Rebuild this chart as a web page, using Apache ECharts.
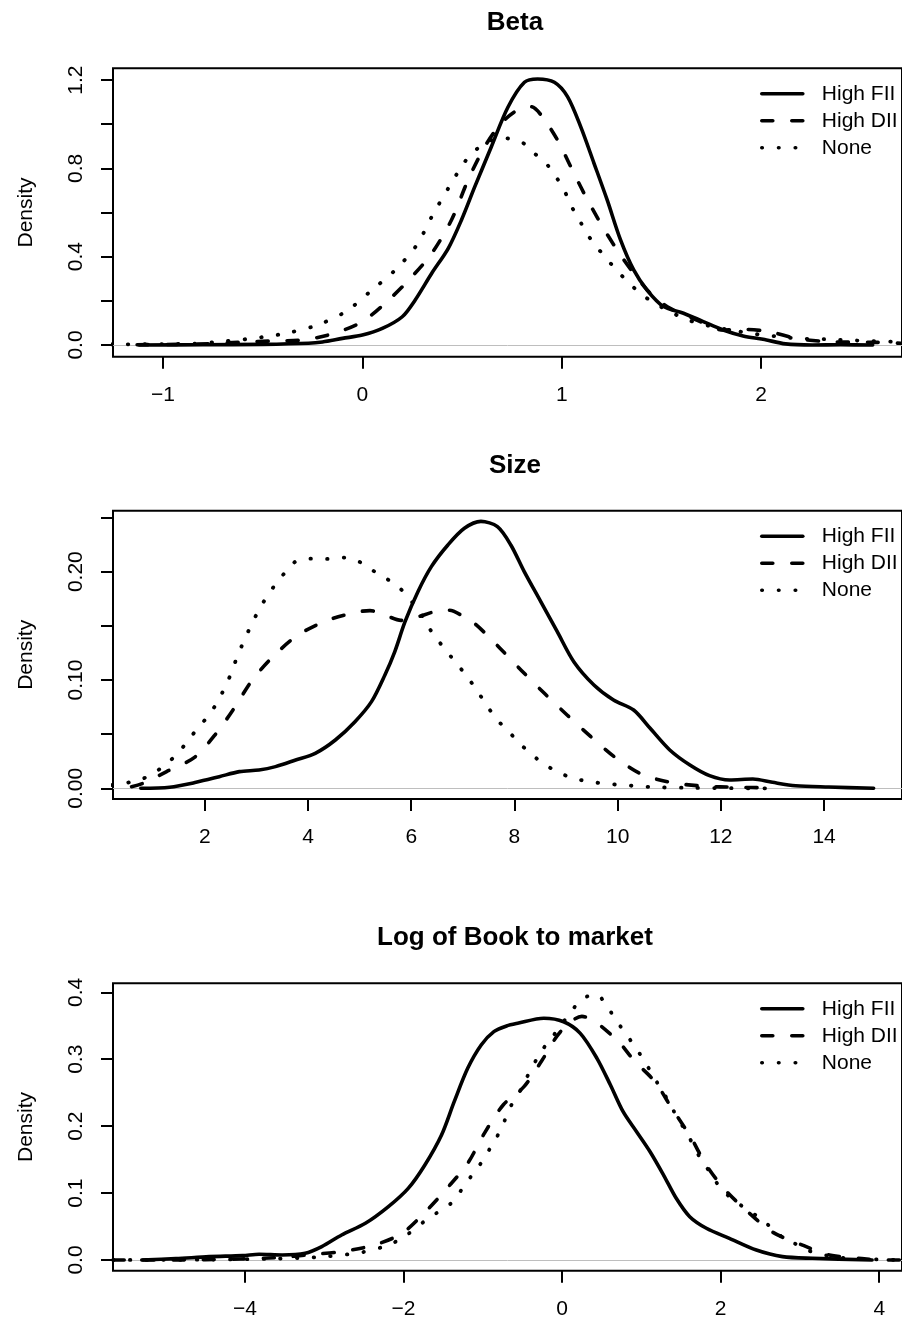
<!DOCTYPE html>
<html><head><meta charset="utf-8">
<script src="https://cdn.jsdelivr.net/npm/echarts@6/dist/echarts.min.js"></script>
<style>html,body{margin:0;padding:0;background:#fff}#c{width:902px;height:1322px}</style>
</head><body><div id="c"></div>
<script>
// ---------------- DATA ----------------
const seriesNames = ['High FII', 'High DII', 'None'];
const panelTitles = ['Beta', 'Size', 'Log of Book to market'];
const yAxisName = 'Density';

// Beta
const betaFII = [[-1.12,0.0],[-0.8,0.001],[-0.5,0.003],[-0.27,0.008],[-0.2,0.014],[-0.1,0.03],[0.0,0.045],[0.1,0.075],[0.2,0.128],[0.265,0.204],[0.348,0.325],[0.431,0.438],[0.497,0.566],[0.564,0.717],[0.647,0.898],[0.73,1.077],[0.813,1.19],[0.879,1.205],[0.963,1.19],[1.029,1.125],[1.095,0.989],[1.162,0.823],[1.228,0.657],[1.295,0.476],[1.361,0.34],[1.428,0.249],[1.511,0.174],[1.611,0.144],[1.71,0.106],[1.81,0.068],[1.91,0.041],[2.01,0.026],[2.123,0.005],[2.257,0.0],[2.4,0.001],[2.56,0.0]];
const betaDII = [[-1.13,0.001],[-0.93,0.003],[-0.77,0.006],[-0.62,0.012],[-0.455,0.018],[-0.297,0.023],[-0.142,0.053],[0.0,0.106],[0.132,0.204],[0.248,0.309],[0.348,0.415],[0.447,0.566],[0.53,0.747],[0.614,0.898],[0.696,1.004],[0.78,1.065],[0.846,1.079],[0.896,1.042],[0.979,0.928],[1.045,0.808],[1.112,0.687],[1.195,0.551],[1.278,0.43],[1.361,0.325],[1.445,0.234],[1.544,0.166],[1.677,0.113],[1.81,0.068],[1.91,0.071],[2.043,0.06],[2.176,0.03],[2.342,0.015],[2.575,0.012],[2.7,0.008]];
const betaNone = [[-1.26,0.003],[-1.0,0.004],[-0.85,0.006],[-0.707,0.016],[-0.55,0.03],[-0.383,0.053],[-0.234,0.088],[-0.084,0.151],[0.048,0.249],[0.165,0.34],[0.273,0.453],[0.348,0.581],[0.431,0.71],[0.514,0.83],[0.572,0.886],[0.64,0.925],[0.713,0.936],[0.796,0.921],[0.863,0.868],[0.921,0.823],[0.971,0.762],[1.012,0.702],[1.045,0.634],[1.087,0.569],[1.125,0.506],[1.175,0.445],[1.228,0.388],[1.282,0.332],[1.337,0.282],[1.394,0.234],[1.461,0.192],[1.536,0.155],[1.611,0.121],[1.686,0.098],[1.76,0.083],[1.843,0.068],[1.926,0.056],[2.01,0.045],[2.093,0.038],[2.176,0.03],[2.325,0.026],[2.489,0.02],[2.7,0.014]];
const betaXTicks = [-1, 0, 1, 2];
const betaYTicks = [0, 0.2, 0.4, 0.6, 0.8, 1.0, 1.2];
const betaYLabels = [0, 0.4, 0.8, 1.2];

// Size
const sizeFII = [[0.76,0.0],[1.32,0.001],[1.83,0.0055],[2.28,0.0107],[2.67,0.0154],[3.05,0.0169],[3.37,0.02],[3.76,0.0261],[4.14,0.0323],[4.53,0.0446],[4.91,0.0615],[5.23,0.08],[5.49,0.1046],[5.68,0.126],[5.88,0.1538],[6.13,0.1815],[6.39,0.2046],[6.71,0.2246],[7.03,0.24],[7.35,0.2464],[7.67,0.2415],[7.93,0.2246],[8.19,0.2],[8.51,0.1723],[8.83,0.1446],[9.15,0.1169],[9.54,0.0954],[9.92,0.0815],[10.31,0.0723],[10.63,0.0554],[11.01,0.0354],[11.4,0.0215],[11.78,0.0117],[12.17,0.0077],[12.62,0.0086],[13.0,0.0055],[13.45,0.0024],[14.09,0.0012],[14.96,0.0]];
const sizeDII = [[0.58,0.0015],[0.8,0.0046],[1.26,0.0154],[1.8,0.0286],[2.23,0.0513],[2.58,0.0748],[2.92,0.1],[3.32,0.1215],[3.79,0.1409],[4.34,0.1544],[4.93,0.1625],[5.2,0.164],[5.52,0.1593],[5.8,0.155],[6.08,0.1575],[6.45,0.163],[6.74,0.1643],[7.0,0.159],[7.26,0.1508],[7.71,0.1298],[8.14,0.1086],[8.58,0.0877],[9.02,0.0677],[9.48,0.0477],[9.95,0.0286],[10.47,0.0129],[11.06,0.0052],[11.67,0.002],[12.3,0.001],[13.0,0.0003]];
const sizeNone = [[0.2,0.003],[0.43,0.0046],[0.74,0.0077],[1.02,0.0144],[1.27,0.0231],[1.5,0.0335],[1.69,0.0452],[1.89,0.0569],[2.09,0.0683],[2.26,0.0809],[2.4,0.0944],[2.53,0.1083],[2.63,0.1221],[2.76,0.136],[2.89,0.1498],[3.03,0.163],[3.19,0.176],[3.37,0.1883],[3.57,0.2],[3.8,0.2105],[4.1,0.212],[4.41,0.2117],[4.73,0.2129],[5.03,0.2083],[5.29,0.2],[5.56,0.1923],[5.81,0.1833],[6.02,0.1717],[6.2,0.16],[6.36,0.147],[6.54,0.1353],[6.74,0.1233],[6.94,0.1117],[7.13,0.1],[7.31,0.0877],[7.48,0.0753],[7.67,0.063],[7.89,0.0523],[8.1,0.0415],[8.33,0.0314],[8.58,0.0222],[8.85,0.0148],[9.15,0.0092],[9.46,0.0061],[9.77,0.0043],[10.07,0.003],[10.39,0.002],[10.7,0.001],[11.33,0.0005],[12.58,0.0],[13.0,0.0]];
const sizeXTicks = [2, 4, 6, 8, 10, 12, 14];
const sizeYTicks = [0, 0.05, 0.10, 0.15, 0.20, 0.25];
const sizeYLabels = [0, 0.10, 0.20];

// Log of Book to market
const btmFII = [[-5.3,0.0],[-4.87,0.002],[-4.45,0.005],[-4.03,0.0065],[-3.82,0.0085],[-3.53,0.0075],[-3.24,0.01],[-3.03,0.02],[-2.78,0.0374],[-2.48,0.0548],[-2.19,0.0797],[-1.94,0.107],[-1.73,0.142],[-1.52,0.1868],[-1.36,0.2366],[-1.19,0.2864],[-1.02,0.3213],[-0.86,0.3412],[-0.7,0.3497],[-0.56,0.3537],[-0.23,0.3612],[0.02,0.356],[0.23,0.3387],[0.44,0.3014],[0.61,0.2615],[0.77,0.2216],[0.94,0.1917],[1.11,0.1618],[1.28,0.127],[1.44,0.0922],[1.61,0.0647],[1.82,0.0474],[2.11,0.0324],[2.45,0.0149],[2.78,0.005],[3.16,0.0025],[3.91,0.0]];
const btmDII = [[-5.66,0.0],[-4.5,0.0005],[-3.61,0.0035],[-3.13,0.0085],[-2.79,0.0124],[-2.37,0.0224],[-2.02,0.0398],[-1.71,0.0737],[-1.44,0.1086],[-1.19,0.1445],[-0.98,0.1893],[-0.74,0.232],[-0.48,0.259],[-0.25,0.2989],[-0.02,0.3412],[0.25,0.364],[0.67,0.3313],[0.91,0.2978],[1.17,0.2665],[1.39,0.2256],[1.62,0.1843],[1.81,0.1435],[2.05,0.1056],[2.35,0.0712],[2.66,0.0413],[3.05,0.0214],[3.37,0.0075],[3.78,0.002],[4.17,0.0],[4.29,0.0]];
const btmNone = [[-5.66,0.0],[-4.5,0.0005],[-3.6,0.002],[-3.0,0.005],[-2.5,0.012],[-2.2,0.022],[-2.0,0.034],[-1.73,0.0583],[-1.57,0.0712],[-1.4,0.0847],[-1.27,0.1046],[-1.15,0.1245],[-1.03,0.1435],[-0.92,0.1644],[-0.82,0.1843],[-0.73,0.2067],[-0.65,0.2291],[-0.54,0.2506],[-0.45,0.2715],[-0.35,0.2939],[-0.25,0.3138],[-0.12,0.3337],[0.02,0.3561],[0.13,0.3736],[0.25,0.39],[0.43,0.397],[0.57,0.3785],[0.68,0.3586],[0.8,0.3387],[0.92,0.3187],[1.03,0.2989],[1.13,0.279],[1.23,0.259],[1.34,0.2376],[1.44,0.2157],[1.55,0.1943],[1.65,0.1729],[1.74,0.1529],[1.86,0.132],[1.97,0.1121],[2.11,0.0946],[2.28,0.0797],[2.45,0.0662],[2.6,0.0523],[2.77,0.0348],[2.93,0.0249],[3.09,0.0149],[3.26,0.0085],[3.43,0.005],[3.61,0.0025],[3.95,0.001],[4.29,0.0]];
const btmXTicks = [-4, -2, 0, 2, 4];
const btmYTicks = [0, 0.1, 0.2, 0.3, 0.4];
const btmYLabels = [0, 0.1, 0.2, 0.3, 0.4];

// axis ranges (R-style 4% padded limits)
const xRanges = [[-1.251, 2.707], [0.221, 15.51], [-5.663, 4.287]];
const yRanges = [[-0.053, 1.2532], [-0.00988, 0.25625], [-0.016, 0.41348]];
const yDecimals = [1, 2, 1];

// ---------------- LAYOUT / STYLE ----------------
const panels = [
  {data: [betaFII, betaDII, betaNone], xt: betaXTicks, yt: betaYTicks, yl: betaYLabels},
  {data: [sizeFII, sizeDII, sizeNone], xt: sizeXTicks, yt: sizeYTicks, yl: sizeYLabels},
  {data: [btmFII, btmDII, btmNone], xt: btmXTicks, yt: btmYTicks, yl: btmYLabels}
];
const boxTops = [68.3, 510.7, 983.3];
const boxHeights = [288.4, 288.3, 287.4];
const boxLeft = 113, boxWidth = 794;
const FONT = '"Liberation Sans", Arial, Helvetica, sans-serif';
const lineStyles = [
  {color: '#000', width: 3.6, type: 'solid', cap: 'round', join: 'round'},
  {color: '#000', width: 3.6, type: [11, 19], cap: 'round', join: 'round'},
  {color: '#000', width: 3.8, type: [0.5, 16.2], cap: 'round', join: 'round'}
];

const grid = [], xAxis = [], yAxis = [], series = [], title = [], legend = [];
panels.forEach((p, i) => {
  grid.push({left: boxLeft, top: boxTops[i], width: boxWidth, height: boxHeights[i],
    show: true, borderColor: '#000', borderWidth: 2, backgroundColor: 'transparent', containLabel: false});
  xAxis.push({type: 'value', gridIndex: i, min: xRanges[i][0], max: xRanges[i][1],
    axisLine: {show: false, onZero: false}, splitLine: {show: false},
    axisTick: {show: true, customValues: p.xt, length: 12, lineStyle: {color: '#000', width: 2}},
    axisLabel: {customValues: p.xt, color: '#000', fontSize: 21, fontFamily: FONT, margin: 28,
      formatter: v => String(v).replace('-', '\u2212')}});
  yAxis.push({type: 'value', gridIndex: i, min: yRanges[i][0], max: yRanges[i][1],
    name: yAxisName, nameLocation: 'middle', nameGap: 76, nameRotate: 90,
    nameTextStyle: {color: '#000', fontSize: 21, fontFamily: FONT},
    axisLine: {show: false, onZero: false}, splitLine: {show: false},
    axisTick: {show: true, customValues: p.yt, length: 12, lineStyle: {color: '#000', width: 2}},
    axisLabel: {customValues: p.yl, rotate: 90, color: '#000', fontSize: 21, fontFamily: FONT, margin: 26,
      formatter: v => Number(v).toFixed(yDecimals[i])}});
  title.push({text: panelTitles[i], left: 510, textAlign: 'center', top: boxTops[i] - 63,
    textStyle: {fontSize: 26, fontWeight: 'bold', color: '#000', fontFamily: FONT}});
  legend.push({data: seriesNames, orient: 'vertical', left: 760, top: boxTops[i] + 15,
    padding: 0, itemWidth: 41, itemHeight: 14, itemGap: 6, selectedMode: false,
    itemStyle: {opacity: 0, borderWidth: 0},
    lineStyle: {width: 3.6},
    textStyle: {color: '#000', fontSize: 21, fontFamily: FONT, padding: [0, 0, 0, 14]}});
  p.data.forEach((d, k) => {
    const s = {type: 'line', name: seriesNames[k], xAxisIndex: i, yAxisIndex: i, data: d,
      symbol: 'none', showSymbol: false, smooth: 0.3, clip: true, silent: true,
      lineStyle: lineStyles[k], itemStyle: {color: '#000'}, emphasis: {disabled: true}, z: 3 + k};
    if (k === 0) {
      s.markLine = {silent: true, symbol: ['none', 'none'], label: {show: false},
        lineStyle: {color: '#bebebe', width: 1, type: 'solid'}, data: [{yAxis: 0}], z: 1};
    }
    series.push(s);
  });
});

const chart = echarts.init(document.getElementById('c'), null, {renderer: 'canvas'});
chart.setOption({animation: false, backgroundColor: '#fff', title, legend, grid, xAxis, yAxis, series});
</script></body></html>
